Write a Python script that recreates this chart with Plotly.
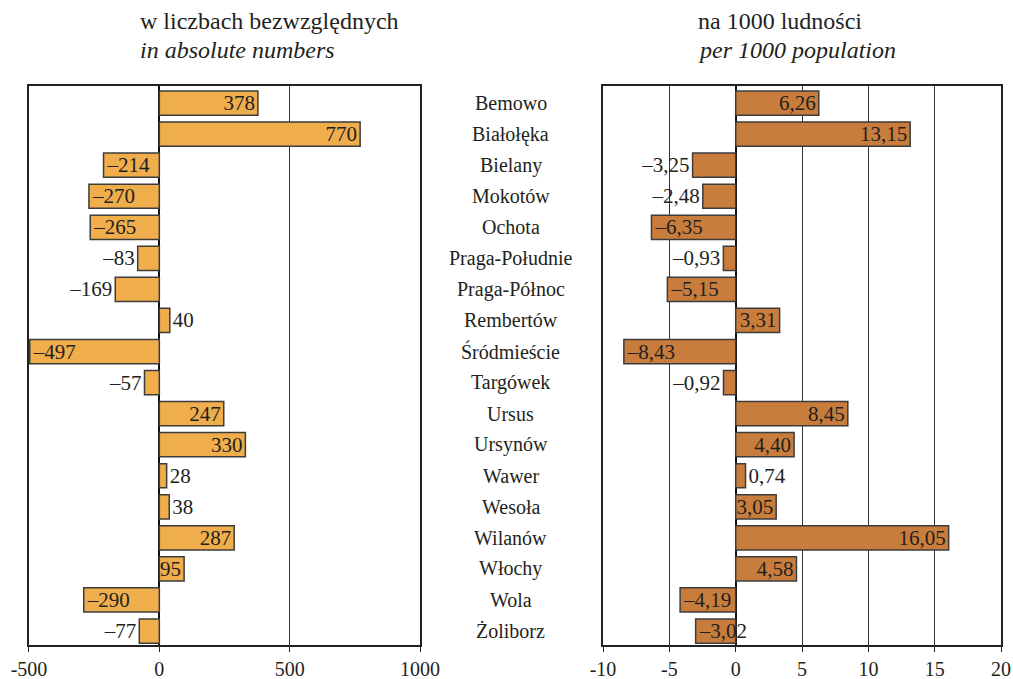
import plotly.graph_objects as go

districts = ['Bemowo', 'Białołęka', 'Bielany', 'Mokotów', 'Ochota', 'Praga-Południe',
             'Praga-Północ', 'Rembertów', 'Śródmieście', 'Targówek', 'Ursus', 'Ursynów',
             'Wawer', 'Wesoła', 'Wilanów', 'Włochy', 'Wola', 'Żoliborz']
absolute = [378, 770, -214, -270, -265, -83, -169, 40, -497, -57, 247, 330, 28, 38, 287, 95, -290, -77]
per_1000 = [6.26, 13.15, -3.25, -2.48, -6.35, -0.93, -5.15, 3.31, -8.43, -0.92, 8.45, 4.40,
            0.74, 3.05, 16.05, 4.58, -4.19, -3.02]

# where the label sits: inside the bar end or outside it
abs_pos = ['inside', 'inside', 'inside', 'inside', 'inside', 'outside', 'outside', 'outside', 'inside',
           'outside', 'inside', 'inside', 'outside', 'outside', 'inside', 'inside', 'inside', 'outside']
rel_pos = ['inside', 'inside', 'outside', 'outside', 'inside', 'outside', 'inside', 'inside', 'inside',
           'outside', 'inside', 'inside', 'outside', 'inside', 'inside', 'inside', 'inside', 'inside']

left_ticks = [-500, 0, 500, 1000]
right_ticks = [-10, -5, 0, 5, 10, 15, 20]

FONT = 'Times New Roman, Liberation Serif, serif'
TXT = '#231f20'

abs_text = [str(v).replace('-', '–') for v in absolute]
rel_text = [f'{v:.2f}'.replace('.', ',').replace('-', '–') for v in per_1000]

fig = go.Figure()
fig.add_trace(go.Bar(
    x=absolute, y=districts, orientation='h', xaxis='x', yaxis='y',
    marker=dict(color='#efae4b', line=dict(color='#3c3c3c', width=1.5)),
    width=0.78, text=abs_text, textposition=abs_pos, insidetextanchor='end',
    constraintext='none', textangle=0, cliponaxis=False,
    textfont=dict(family=FONT, size=21, color=TXT),
    insidetextfont=dict(family=FONT, size=21, color=TXT),
    outsidetextfont=dict(family=FONT, size=21, color=TXT),
    showlegend=False, hoverinfo='x+y'
))
fig.add_trace(go.Bar(
    x=per_1000, y=districts, orientation='h', xaxis='x2', yaxis='y2',
    marker=dict(color='#c97d3c', line=dict(color='#3c3c3c', width=1.5)),
    width=0.78, text=rel_text, textposition=rel_pos, insidetextanchor='end',
    constraintext='none', textangle=0, cliponaxis=False,
    textfont=dict(family=FONT, size=21, color=TXT),
    insidetextfont=dict(family=FONT, size=21, color=TXT),
    outsidetextfont=dict(family=FONT, size=21, color=TXT),
    showlegend=False, hoverinfo='x+y'
))

# district names in the gap between panels
for d in districts:
    fig.add_annotation(x=0.504, xref='paper', y=d, yref='y', text=d, showarrow=False,
                       xanchor='center', font=dict(family=FONT, size=20, color=TXT))

# panel headings
for x0, line1, line2 in [(0.136, 'w liczbach bezwzględnych', 'in absolute numbers'),
                         (0.687, 'na 1000 ludności', 'per 1000 population')]:
    fig.add_annotation(x=x0, xref='paper', y=1.0, yref='paper', yanchor='bottom', yshift=50,
                       text=line1, showarrow=False, xanchor='left',
                       font=dict(family=FONT, size=24, color=TXT))
    fig.add_annotation(x=x0, xref='paper', y=1.0, yref='paper', yanchor='bottom', yshift=21,
                       text=f'<i>{line2}</i>', showarrow=False, xanchor='left',
                       font=dict(family=FONT, size=24, color=TXT))

xcommon = dict(showgrid=True, gridcolor='#333333', gridwidth=1, zeroline=True, zerolinecolor='#111111',
               zerolinewidth=1.5, showline=True, linecolor='#222222', linewidth=1.5, mirror=True,
               ticks='outside', ticklen=5, tickcolor='#222222', automargin=False,
               tickfont=dict(family=FONT, size=20, color=TXT), fixedrange=True)
ycommon = dict(categoryorder='array', categoryarray=districts, range=[17.45, -0.55],
               showticklabels=False, showgrid=False, zeroline=False, showline=True,
               linecolor='#222222', linewidth=1.5, mirror=True, ticks='',
               automargin=False, fixedrange=True)

fig.update_layout(
    width=1013, height=679,
    margin=dict(l=0, r=0, t=86, b=34),
    paper_bgcolor='white', plot_bgcolor='white',
    font=dict(family=FONT),
    bargap=0.2,
    xaxis=dict(domain=[0.0286, 0.4147], range=[-500, 1000], anchor='y',
               tickvals=left_ticks, ticktext=[str(t) for t in left_ticks], **xcommon),
    yaxis=dict(anchor='x', **ycommon),
    xaxis2=dict(domain=[0.5953, 0.9882], range=[-10, 20], anchor='y2',
                tickvals=right_ticks, ticktext=[str(t) for t in right_ticks], **xcommon),
    yaxis2=dict(anchor='x2', **ycommon),
)

fig.write_html('out.html', config={'displayModeBar': False},
               post_script="document.body.style.margin='0';")
